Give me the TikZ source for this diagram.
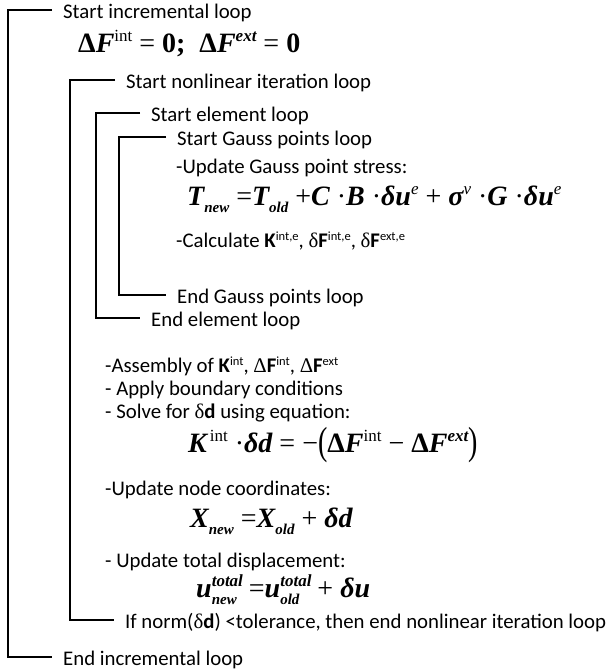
\documentclass[tikz,border=0pt]{standalone}
\usepackage{fontspec}
\usepackage{graphicx}
\setmainfont{Carlito}
\newfontfamily\eqf{Liberation Serif}
\newcommand\eqsize{\eqf\fontsize{28}{30}\selectfont}
\newcommand\bi{\bfseries\itshape}
\newcommand\nm{\mdseries\upshape}
\newcommand\eqsup[1]{\raisebox{11pt}{\fontsize{17}{17}\selectfont #1}}
\newcommand\eqsub[1]{\raisebox{-7pt}{\fontsize{15}{15}\selectfont #1}}
\newcommand\eqsubsup[2]{\setbox0\hbox{\eqsup{#2}}\setbox2\hbox{\eqsub{#1}}%
  \ifdim\wd0>\wd2 \rlap{\box2}\box0\else\rlap{\box0}\box2\fi}
\newcommand\tsup[1]{\raisebox{7pt}{\fontsize{12.5}{13}\selectfont #1}}
\newcommand\gr[1]{{\eqf #1}}
\newcommand\bigpar[1]{\raisebox{-2pt}{\scalebox{1}[1.4]{#1}}}
\tikzset{
  loopline/.style={line width=1.1pt},
  txt/.style={anchor=west, inner xsep=11pt, inner ysep=0pt, text height=20pt, text depth=4pt, font=\fontsize{20.8}{24}\selectfont},
  eqn/.style={anchor=base west, inner sep=0pt, font=\eqsize},
}
\begin{document}
\begin{tikzpicture}[x=1pt,y=-1pt]
    \useasboundingbox (0,0) rectangle (611,672);
    %ciclo incrementale
    \node[txt] (sinc) at (52,10) {Start incremental loop};
    \node[eqn] (eqzero) at (78,52) {{\bfseries Δ}{\bi F}\eqsup{\nm int}\hspace{7pt}= {\bfseries 0;}\hspace{14pt}{\bfseries Δ}{\bi F}\eqsup{\bi ext}\hspace{7pt}= {\bfseries 0}};
    %ciclo non lineare
    \node[txt] (snl) at (115,80) {Start nonlinear iteration loop};
    %ciclo elementi
    \node[txt] (sel) at (140,113) {Start element loop};
    %ciclo punti di Gauss
    \node[txt] (sgp) at (166,137) {Start Gauss points loop};
    \node[txt] (updg) at (165,165) {-Update Gauss point stress:};
    \node[eqn] (eqstress) at (187,205) {{\bi T}\eqsub{\bi new}\hspace{7pt}={\bi T}\eqsub{\bi old} +{\bi C} ·{\bi B} ·{\bi δu}\eqsup{\nm\itshape e} + {\bi σ}\eqsup{\nm\itshape v} ·{\bi G} ·{\bi δu}\eqsup{\nm\itshape e}};
    \node[txt] (calc) at (165,239) {-Calculate \textbf{K}\tsup{int,e}, \gr{δ}\textbf{F}\tsup{int,e}, \gr{δ}\textbf{F}\tsup{ext,e}};
    \node[txt] (egp) at (166,295) {End Gauss points loop};
    \node[txt] (eel) at (140,318) {End element loop};
    %assemblaggio e soluzione
    \node[txt] (asm) at (94,364) {-Assembly of \textbf{K}\tsup{int}, \gr{Δ}\textbf{F}\tsup{int}, \gr{Δ}\textbf{F}\tsup{ext}};
    \node[txt] (bc) at (94,387) {- Apply boundary conditions};
    \node[txt] (solve) at (94,410) {- Solve for \gr{δ}\textbf{d} using equation:};
    \node[eqn] (eqsolve) at (188,452) {{\bi K}\hspace{3pt}\eqsup{\nm int} ·{\bi δd} = −\bigpar{(}{\bfseries Δ}{\bi F}\eqsup{\nm int} − {\bfseries Δ}{\bi F}\eqsup{\bi ext}\bigpar{)}};
    \node[txt] (updn) at (94,487) {-Update node coordinates:};
    \node[eqn] (eqnode) at (190,527) {{\bi X}\eqsub{\bi new} ={\bi X}\eqsub{\bi old} + {\bi δd}};
    \node[txt] (updt) at (94,559) {- Update total displacement:};
    \node[eqn] (eqdisp) at (196,597) {{\bi u}\eqsubsup{\bi new}{\bi total}\hspace{6pt}={\bi u}\eqsubsup{\bi old}{\bi total}\hspace{6pt}+ {\bi δu}};
    \node[txt] (enl) at (114,620) {If norm(\gr{δ}\textbf{d}) <tolerance, then end nonlinear iteration loop};
    \node[txt] (einc) at (52,657) {End incremental loop};
    %parentesi dei cicli
    \coordinate (xinc) at (8,0);
    \coordinate (xnl) at (70,0);
    \coordinate (xel) at (96,0);
    \coordinate (xgp) at (119,0);
    \draw[loopline] (sinc.west) -- (sinc.west -| xinc) -- (einc.west -| xinc) -- (einc.west); %incrementale
    \draw[loopline] (snl.west) -- (snl.west -| xnl) -- (enl.west -| xnl) -- (enl.west); %non lineare
    \draw[loopline] (sel.west) -- (sel.west -| xel) -- (eel.west -| xel) -- (eel.west); %elementi
    \draw[loopline] (sgp.west) -- (sgp.west -| xgp) -- (egp.west -| xgp) -- (egp.west); %Gauss
\end{tikzpicture}
\end{document}
